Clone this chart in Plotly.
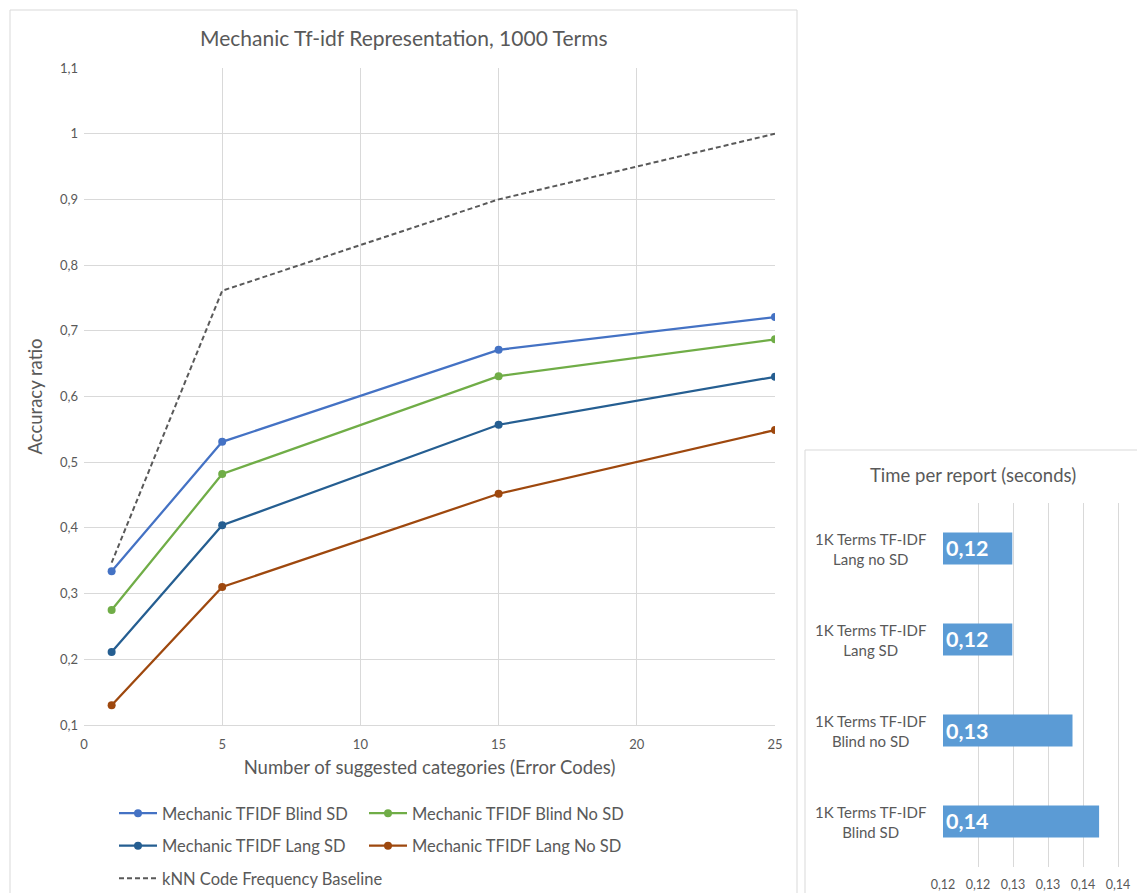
import plotly.graph_objects as go

# ---- accuracy vs. number of suggested categories ----
n_suggested = [1, 5, 15, 25]
blind_sd = [0.334, 0.531, 0.671, 0.721]
blind_no_sd = [0.275, 0.482, 0.631, 0.687]
lang_sd = [0.211, 0.404, 0.557, 0.630]
lang_no_sd = [0.130, 0.310, 0.452, 0.549]
knn_baseline = [0.347, 0.761, 0.900, 1.000]

# ---- time per report ----
time_labels = [
    "1K Terms TF-IDF<br>Blind SD",
    "1K Terms TF-IDF<br>Blind no SD",
    "1K Terms TF-IDF<br>Lang SD",
    "1K Terms TF-IDF<br>Lang no SD",
]
time_values = [0.1373, 0.1335, 0.1249, 0.1249]
time_axis_min = 0.115
time_tickvals = [0.115, 0.12, 0.125, 0.13, 0.135, 0.14]
time_ticktext = ["0,12", "0,12", "0,13", "0,13", "0,14", "0,14"]

W, H = 1137, 893
FONT = "Lato, 'Open Sans', sans-serif"
GREY = "#595959"
GRID = "#D9D9D9"


def px(x):
    return x / W


def py(y):
    return 1 - y / H


fig = go.Figure()

series = [
    ("Mechanic TFIDF Blind SD", blind_sd, "#4472C4", "legend"),
    ("Mechanic TFIDF Blind No SD", blind_no_sd, "#70AD47", "legend2"),
    ("Mechanic TFIDF Lang SD", lang_sd, "#255E91", "legend"),
    ("Mechanic TFIDF Lang No SD", lang_no_sd, "#9E480E", "legend2"),
]
for name, vals, color, leg in series:
    fig.add_trace(go.Scatter(
        x=n_suggested, y=vals, name=name, mode="lines+markers",
        line=dict(color=color, width=2.25),
        marker=dict(color=color, size=8),
        legend=leg, legendgroup=name,
        xaxis="x", yaxis="y",
    ))

fig.add_trace(go.Scatter(
    x=n_suggested, y=knn_baseline, name="kNN Code Frequency Baseline",
    mode="lines", line=dict(color="#595959", width=2, dash="5px,3px"),
    legend="legend", legendgroup="knn",
    xaxis="x", yaxis="y",
))

# bars start at the value axis minimum, so each bar ends at its value
fig.add_trace(go.Bar(
    y=time_labels,
    x=[v - time_axis_min for v in time_values],
    base=time_axis_min,
    customdata=time_values,
    orientation="h",
    marker=dict(color="#5B9BD5", line=dict(width=0)),
    texttemplate="%{customdata:.2f}", textposition="inside", insidetextanchor="start",
    textfont=dict(color="white", size=21.5, family=FONT, weight="bold"),
    textangle=0, constraintext="none",
    showlegend=False, xaxis="x2", yaxis="y2",
))

annotations = [
    dict(text="Mechanic Tf-idf Representation, 1000 Terms", xref="paper", yref="paper",
         x=px(404), y=py(38), xanchor="center", yanchor="middle",
         showarrow=False, font=dict(size=21, color=GREY)),
    dict(text="Time per report (seconds)", xref="paper", yref="paper",
         x=px(973), y=py(475), xanchor="center", yanchor="middle",
         showarrow=False, font=dict(size=18.5, color=GREY)),
]
# centred category labels for the time chart
for lab in time_labels:
    annotations.append(dict(
        text=lab, xref="paper", yref="y2", x=px(870), y=lab,
        xanchor="center", yanchor="middle", align="center",
        showarrow=False, font=dict(size=15, color=GREY),
    ))

legend_common = dict(
    yanchor="top", xanchor="left", orientation="v",
    tracegroupgap=8, traceorder="grouped",
    font=dict(size=16.5, color=GREY), bgcolor="rgba(0,0,0,0)", itemwidth=38,
)

fig.update_layout(
    width=W, height=H,
    margin=dict(l=0, r=0, t=0, b=0, autoexpand=False),
    paper_bgcolor="white", plot_bgcolor="white",
    separators=",.",
    font=dict(family=FONT, color=GREY),
    bargap=0.65,
    xaxis=dict(
        domain=[px(84), px(775)], range=[0, 25], tickvals=[0, 5, 10, 15, 20, 25],
        showgrid=True, gridcolor=GRID, gridwidth=1, zeroline=False,
        showline=True, linecolor=GRID, linewidth=1,
        ticks="", tickfont=dict(size=13, color=GREY), ticklabelstandoff=7,
        title=dict(text="Number of suggested categories (Error Codes)",
                   font=dict(size=18.5, color=GREY), standoff=10),
        anchor="y",
    ),
    yaxis=dict(
        domain=[py(725), py(68)], range=[0.1, 1.1], dtick=0.1, tick0=0.1,
        tickformat=".1~f",
        showgrid=True, gridcolor=GRID, gridwidth=1, zeroline=False,
        showline=False, ticks="", tickfont=dict(size=13, color=GREY), ticklabelstandoff=5,
        title=dict(text="Accuracy ratio", font=dict(size=18.5, color=GREY), standoff=12),
        anchor="x",
    ),
    xaxis2=dict(
        domain=[px(943), px(1125)], range=[time_axis_min, 0.141],
        tickvals=time_tickvals, ticktext=time_ticktext,
        showgrid=True, gridcolor=GRID, zeroline=False, showline=False,
        ticks="", tickfont=dict(size=12.5, color=GREY), ticklabelstandoff=8,
        anchor="y2",
    ),
    yaxis2=dict(
        domain=[py(867), py(503)],
        showgrid=False, zeroline=False, showline=False, ticks="",
        showticklabels=False,
        anchor="x2",
    ),
    legend=dict(x=px(114), y=py(796), **legend_common),
    legend2=dict(x=px(364), y=py(796), **legend_common),
    shapes=[
        dict(type="rect", xref="paper", yref="paper",
             x0=px(10), x1=px(797), y0=py(895), y1=py(10),
             line=dict(color=GRID, width=1), fillcolor="rgba(0,0,0,0)", layer="below"),
        dict(type="rect", xref="paper", yref="paper",
             x0=px(805), x1=px(1139), y0=py(895), y1=py(450),
             line=dict(color=GRID, width=1), fillcolor="rgba(0,0,0,0)", layer="below"),
    ],
    annotations=annotations,
)

fig.write_html("out.html")
